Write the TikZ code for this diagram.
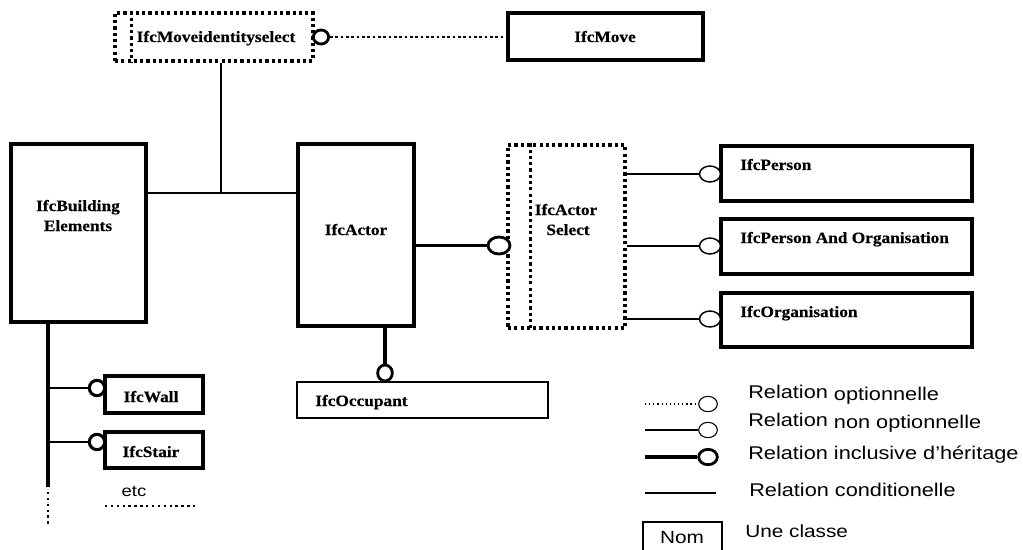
\documentclass[tikz,border=0pt]{standalone}
\usepackage{fontspec}
\newfontfamily\boxfont{Liberation Serif}[FakeStretch=1.1, FakeBold=0.4]
\newfontfamily\legfont{Liberation Sans}[FakeStretch=1.18]
\usetikzlibrary{fit,shapes.geometric}
\begin{document}
\begin{tikzpicture}[x=0.75pt,y=-0.75pt,
  box/.style={draw, fill=white, line width=2.3pt, inner sep=0pt},
  dotbox/.style={draw, line width=2.4pt, dash pattern=on 2.4pt off 2.3pt, inner sep=0pt},
  lbl/.style={font=\boxfont\bfseries\fontsize{11.8}{14}\selectfont, inner sep=0pt, anchor=base},
  leg/.style={font=\legfont\fontsize{13.8}{16}\selectfont, inner sep=0pt, anchor=base west},
  ring/.style={ellipse, draw, fill=white, inner sep=0pt},
  medline/.style={line width=1.6pt},
  actline/.style={line width=2pt},
  thickline/.style={line width=2.3pt},
  thinline/.style={line width=1pt},
  dotline/.style={line width=1.9pt, dash pattern=on 1.9pt off 2.1pt},
  smalldots/.style={line width=1.8pt, dash pattern=on 1.8pt off 2.6pt},
  legdots/.style={line width=0.9pt, dash pattern=on 0.9pt off 2.2pt}
]
\useasboundingbox (0,0) rectangle (1023,549);
\fill[white] (0,0) rectangle (1023,549);
\clip (0,0) rectangle (1023,549);

\coordinate (j1) at (221,193);
\coordinate (bEnd) at (48,487);
\coordinate (dTop) at (48,492);
\coordinate (dBot) at (48,525);

% ---- top row ----
\node[dotbox, fit={(115,13)(313,61)}] (mvsel) {};
\draw[dotbox] ([xshift=13.5pt]mvsel.north west) -- ([xshift=13.5pt]mvsel.south west);
\node[lbl] (mvselT) at (216,42) {IfcMoveidentityselect};
\node[box, fit={(508,13)(703,60)}] (move) {};
\node[lbl] (moveT) at (605,42) {IfcMove};
\node[ring, line width=2.1pt, minimum width=11.5pt, minimum height=10.5pt] (cM) at (321,37) {};
\draw[dotline] (cM.east) -- (cM.east -| move.west);

% ---- main boxes ----
\node[box, fit={(11,144)(146,322)}] (bld) {};
\node[lbl] (bldT1) at (78,211) {IfcBuilding};
\node[lbl] (bldT2) at (78,231) {Elements};
\node[box, fit={(298,144)(414,326)}] (actor) {};
\node[lbl] (actorT) at (356,235) {IfcActor};
\draw[medline] (j1 |- mvsel.south) -- (j1);
\draw[medline] (bld.east |- j1) -- (actor.west |- j1);

\node[dotbox, fit={(508,145)(625,328)}] (asel) {};
\draw[dotbox] ([xshift=18pt]asel.north west) -- ([xshift=18pt]asel.south west);
\node[lbl] (aselT1) at (566,215) {IfcActor};
\node[lbl] (aselT2) at (568,235) {Select};
\node[ring, line width=2.1pt, minimum width=16.5pt, minimum height=12.75pt] (cA) at (499,245.5) {};
\draw[actline] (actor.east |- cA) -- (cA.west);

\node[box, fit={(721,146)(972,201)}] (pers) {};
\node[lbl, anchor=base west] (persT) at (740,170) {IfcPerson};
\node[box, fit={(721,219)(972,274)}] (pao) {};
\node[lbl, anchor=base west] (paoT) at (740,243) {IfcPerson And Organisation};
\node[box, fit={(721,293)(972,347)}] (org) {};
\node[lbl, anchor=base west] (orgT) at (740,317) {IfcOrganisation};
\node[ring, line width=1.1pt, minimum width=15.75pt, minimum height=12pt] (cP1) at (710,174) {};
\node[ring, line width=1.1pt, minimum width=15.75pt, minimum height=12pt] (cP2) at (710,246) {};
\node[ring, line width=1.1pt, minimum width=15.75pt, minimum height=12pt] (cP3) at (710,319) {};
\draw[thinline] (asel.east |- cP1) -- (cP1.west);
\draw[thinline] (asel.east |- cP2) -- (cP2.west);
\draw[thinline] (asel.east |- cP3) -- (cP3.west);

\node[box, line width=2pt, fit={(297,382)(548,418)}] (occ) {};
\node[lbl, anchor=base west] (occT) at (315,406) {IfcOccupant};
\node[ring, line width=2.1pt, minimum width=11pt, minimum height=12pt] (cO) at (385,373) {};
\draw[thickline] (actor.south -| cO) -- (cO.north);

% ---- building elements branch ----
\draw[thickline] (bld.south -| bEnd) -- (bEnd);
\draw[smalldots] (dTop) -- (dBot);
\node[box, fit={(105,376)(203,413)}] (wall) {};
\node[lbl] (wallT) at (151,402) {IfcWall};
\node[box, fit={(105,432)(203,468)}] (stair) {};
\node[lbl] (stairT) at (151,457) {IfcStair};
\node[ring, line width=2.3pt, minimum width=11.5pt, minimum height=11.5pt] (cW) at (97,388) {};
\node[ring, line width=2.3pt, minimum width=11.5pt, minimum height=11.5pt] (cS) at (97,442) {};
\draw[actline] (bEnd |- cW) -- (cW.west);
\draw[actline] (bEnd |- cS) -- (cS.west);
\node[leg, anchor=base, font=\legfont\fontsize{11.8}{14}\selectfont] (etcT) at (134,496) {etc};
\coordinate (e1) at (105,506);
\coordinate (e2) at (197,506);
\draw[smalldots] (e1) -- (e2);

% ---- legend ----
\coordinate (l1a) at (645,404);
\coordinate (l2a) at (645,430);
\coordinate (l3a) at (645,457);
\coordinate (l4a) at (645,493);
\coordinate (l4b) at (716,493);
\node[ring, line width=0.8pt, minimum width=14pt, minimum height=11.5pt] (l1c) at (708,404) {};
\node[ring, line width=0.8pt, minimum width=14pt, minimum height=11.5pt] (l2c) at (708,430) {};
\node[ring, line width=2.1pt, minimum width=14pt, minimum height=11.5pt] (l3c) at (708,457) {};
\draw[legdots] (l1a) -- (l1c.west);
\draw[line width=0.8pt] (l2a) -- (l2c.west);
\draw[line width=2.3pt] (l3a) -- (l3c.west);
\draw[line width=2pt] (l4a) -- (l4b);
\node[leg] (l1t) at (748,400) {\raisebox{1.5pt}{Relation} optionnelle};
\node[leg] (l2t) at (748,428) {\raisebox{1.5pt}{Relation} non optionnelle};
\node[leg] (l3t) at (748,459) {Relation inclusive d’héritage};
\node[leg] (l4t) at (749,496) {Relation conditionelle};
\node[draw, line width=1pt, inner sep=0pt, fit={(643,522)(722,556)}] (nom) {};
\node[leg, anchor=base, font=\legfont\fontsize{13.2}{15}\selectfont] (nomT) at (682,543) {Nom};
\node[leg, font=\legfont\fontsize{13.2}{15}\selectfont] (unecl) at (745,537) {Une classe};
\end{tikzpicture}
\end{document}
